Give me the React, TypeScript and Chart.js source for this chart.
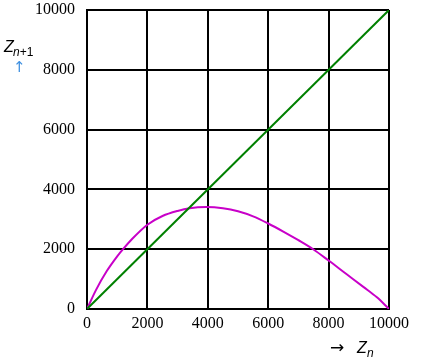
import React, { useEffect, useRef } from "react";
import { Chart, registerables } from "chart.js";

Chart.register(...registerables);

const curveX = [0, 300, 650, 1000, 1200, 1500, 2000, 2500, 3000, 3400, 3950, 4500, 5000, 5500, 6000, 6500, 7000, 7500, 8000, 8600, 9150, 9600, 10000];
const curveY = [0, 640, 1260, 1760, 2010, 2350, 2820, 3110, 3280, 3370, 3410, 3370, 3270, 3100, 2860, 2590, 2300, 1990, 1620, 1160, 740, 390, 0];
const diagX = [0, 10000];
const diagY = [0, 10000];
const axisMin = 0;
const axisMax = 10000;
const tickStep = 2000;

const labelPlugin = {
  id: "labels",
  afterDraw(chart: any) {
    const ctx = chart.ctx;
    ctx.save();
    ctx.fillStyle = "#000";
    ctx.textAlign = "left";
    ctx.textBaseline = "alphabetic";
    // Z_{n+1}
    ctx.font = "italic 16px 'Liberation Sans'";
    ctx.fillText("Z", 4, 52);
    ctx.font = "italic 12px 'Liberation Sans'";
    ctx.fillText("n", 13, 56);
    const nw = ctx.measureText("n").width;
    ctx.font = "12px 'Liberation Sans'";
    ctx.fillText("+1", 13 + nw, 56);
    ctx.fillStyle = "#3d8fe0";
    ctx.font = "15px 'DejaVu Sans'";
    ctx.fillText("\u2191", 13, 72);
    // -> Z_n
    ctx.fillStyle = "#000";
    ctx.font = "17px 'DejaVu Sans'";
    ctx.fillText("\u2192", 330, 353);
    ctx.font = "italic 16px 'Liberation Sans'";
    ctx.fillText("Z", 357, 353);
    ctx.font = "italic 12px 'Liberation Sans'";
    ctx.fillText("n", 367, 357);
    ctx.restore();
  },
};

export default function App() {
  const ref = useRef<HTMLCanvasElement>(null);
  useEffect(() => {
    if (!ref.current) return;
    const chart = new Chart(ref.current, {
      type: "scatter",
      data: {
        datasets: [
          {
            data: diagX.map((x, i) => ({ x, y: diagY[i] })),
            showLine: true,
            borderColor: "#008000",
            borderWidth: 2,
            pointRadius: 0,
          },
          {
            data: curveX.map((x, i) => ({ x, y: curveY[i] })),
            showLine: true,
            borderColor: "#c800c8",
            borderWidth: 2,
            pointRadius: 0,
            cubicInterpolationMode: "monotone",
          },
        ],
      },
      options: {
        animation: false,
        responsive: false,
        layout: { padding: { left: 0, right: 37, top: 10, bottom: 0 } },
        plugins: { legend: { display: false }, tooltip: { enabled: false } },
        scales: {
          x: {
            type: "linear",
            min: axisMin,
            max: axisMax,
            afterFit: (s: any) => { s.height = 50; s.paddingLeft = 0; s.paddingRight = 0; },
            border: { color: "#000", width: 2 },
            grid: { color: "#000", lineWidth: 2, drawTicks: false },
            ticks: {
              stepSize: tickStep,
              padding: 5,
              color: "#000",
              font: { family: "'Liberation Serif'", size: 16 },
              callback: (v: any) => String(v),
            },
          },
          y: {
            type: "linear",
            min: axisMin,
            max: axisMax,
            afterFit: (s: any) => { s.width = 87; s.paddingTop = 0; s.paddingBottom = 0; },
            border: { color: "#000", width: 2 },
            grid: { color: "#000", lineWidth: 2, drawTicks: false },
            ticks: {
              stepSize: tickStep,
              padding: 12,
              color: "#000",
              font: { family: "'Liberation Serif'", size: 16 },
              callback: (v: any) => String(v),
            },
          },
        },
      },
      plugins: [labelPlugin],
    });
    return () => chart.destroy();
  }, []);
  return (
    <div style={{ position: "fixed", left: 0, top: 0, background: "#fff" }}>
      <canvas ref={ref} width={426} height={359} style={{ display: "block" }} />
    </div>
  );
}
